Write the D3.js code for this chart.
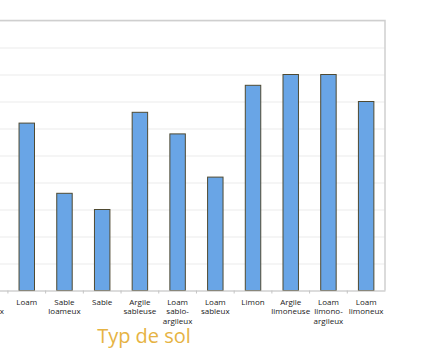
<!DOCTYPE html>
<html>
<head>
<meta charset="utf-8">
<script src="https://cdn.jsdelivr.net/npm/d3@7"></script>
<style>
  body { margin: 0; background: #fff; }
  svg { display: block; font-family: "Open Sans", sans-serif; }
</style>
</head>
<body>
<div id="chart"></div>
<script>
// soil types (first two fall outside the visible crop)
const categories = ["Argile", "Loam argileux", "Loam", "Sable loameux", "Sable", "Argile sableuse",
                    "Loam sablo-argileux", "Loam sableux", "Limon", "Argile limoneuse",
                    "Loam limono-argileux", "Loam limoneux"];
const labelLines = [["Argile"], ["Loam", "argileux"], ["Loam"], ["Sable", "loameux"], ["Sable"],
                    ["Argile", "sableuse"], ["Loam", "sablo-", "argileux"], ["Loam", "sableux"],
                    ["Limon"], ["Argile", "limoneuse"], ["Loam", "limono-", "argileux"],
                    ["Loam", "limoneux"]];
const values = [7.4, 6.8, 6.2, 3.6, 3.0, 6.6, 5.8, 4.2, 7.6, 8.0, 8.0, 7.0];
const yTicks = [0, 1, 2, 3, 4, 5, 6, 7, 8, 9, 10];

const W = 440, H = 352;
const plotLeft = -67.5, plotRight = 385, plotTop = 20.5, plotBottom = 290.5;

const svg = d3.select("#chart").append("svg")
    .attr("width", W)
    .attr("height", H);

const x = d3.scaleBand()
    .domain(categories)
    .range([plotLeft, plotRight])
    .paddingInner(0.59)
    .paddingOuter(0.295);

const y = d3.scaleLinear()
    .domain([0, 10])
    .range([plotBottom, plotTop]);

// gridlines
svg.append("g")
    .attr("transform", `translate(${plotLeft},0)`)
    .call(d3.axisLeft(y).tickValues(yTicks).tickSize(-(plotRight - plotLeft)).tickFormat(""))
    .call(g => g.select(".domain").remove())
    .call(g => g.selectAll(".tick line").attr("stroke", "#ebebeb").attr("stroke-width", 1));

// plot border (top + right)
svg.append("path")
    .attr("d", `M${plotLeft},${plotTop}H${plotRight}V${plotBottom}`)
    .attr("fill", "none")
    .attr("stroke", "#cfcfcf")
    .attr("stroke-width", 1.5);

// bars
svg.selectAll("rect.bar")
    .data(values)
    .enter()
    .append("rect")
    .attr("class", "bar")
    .attr("x", (d, i) => x(categories[i]))
    .attr("y", d => y(d))
    .attr("width", x.bandwidth())
    .attr("height", d => y(0) - y(d))
    .attr("fill", "#69a5e6")
    .attr("stroke", "#4f4a32")
    .attr("stroke-width", 1);

// x axis
const xAxis = svg.append("g")
    .attr("transform", `translate(0,${plotBottom})`)
    .call(d3.axisBottom(x).tickSize(0).tickFormat(""));
xAxis.select(".domain").attr("stroke", "#c4c4c4").attr("stroke-width", 1.2);

// small ticks between categories
const step = x.step();
xAxis.selectAll("line.sep")
    .data(categories.slice(1))
    .enter()
    .append("line")
    .attr("class", "sep")
    .attr("x1", d => x(d) - step * 0.295)
    .attr("x2", d => x(d) - step * 0.295)
    .attr("y1", 0)
    .attr("y2", 3)
    .attr("stroke", "#c4c4c4");

// category labels
const lbl = svg.append("g").selectAll("text")
    .data(categories)
    .enter()
    .append("text")
    .attr("text-anchor", "middle")
    .attr("font-size", 8)
    .attr("fill", "#1a1a1a");
lbl.each(function(d, i) {
    const t = d3.select(this);
    labelLines[i].forEach((line, j) => {
        t.append("tspan")
            .attr("x", x(d) + x.bandwidth() / 2)
            .attr("y", 304.5 + j * 9.6)
            .text(line);
    });
});

// axis title
svg.append("text")
    .attr("x", 144)
    .attr("y", 343)
    .attr("text-anchor", "middle")
    .attr("font-size", 20)
    .attr("fill", "#e6b343")
    .text("Typ de sol");
</script>
</body>
</html>
